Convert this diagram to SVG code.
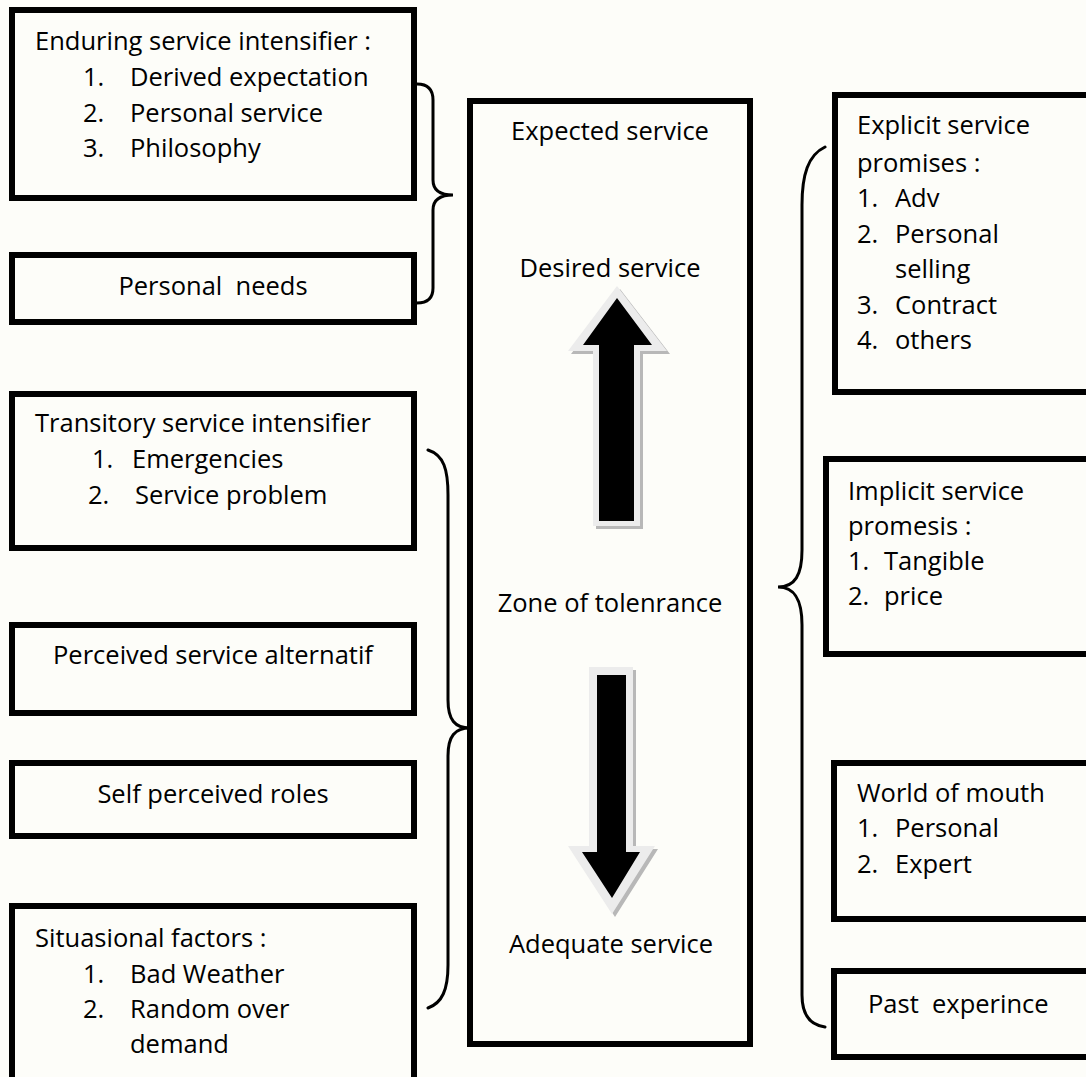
<svg xmlns="http://www.w3.org/2000/svg" width="1086" height="1077" viewBox="0 0 1086 1077">
  <style>
    .box { fill: none; stroke: #000; stroke-width: 6; }
    .brace { fill: none; stroke: #000; stroke-width: 3; stroke-linecap: round; }
    text { font-family: "Open Sans", "Liberation Sans", sans-serif; font-size: 25.5px; fill: #000; white-space: pre; }
    .mid { text-anchor: middle; }
    .glow { fill: #ececec; }
    .shade { fill: #b8b8b8; }
    .core { fill: #000; }
  </style>
  <rect x="0" y="0" width="1086" height="1077" fill="#fdfdf9"/>

  <!-- left column -->
  <g id="enduring-intensifier">
    <rect class="box" x="12" y="10" width="402" height="188"/>
    <text x="35" y="50">Enduring service intensifier :</text>
    <text x="83" y="86">1.</text><text x="130" y="86">Derived expectation</text>
    <text x="83" y="122">2.</text><text x="130" y="122">Personal service</text>
    <text x="83" y="157">3.</text><text x="130" y="157">Philosophy</text>
  </g>
  <g id="personal-needs">
    <rect class="box" x="12" y="255" width="402" height="67"/>
    <text class="mid" x="213" y="295">Personal  needs</text>
  </g>
  <g id="transitory-intensifier">
    <rect class="box" x="12" y="394" width="402" height="154"/>
    <text x="35" y="432">Transitory service intensifier</text>
    <text x="92" y="468">1.</text><text x="132" y="468">Emergencies</text>
    <text x="88" y="504">2.</text><text x="135" y="504">Service problem</text>
  </g>
  <g id="perceived-alternatives">
    <rect class="box" x="12" y="625" width="402" height="88"/>
    <text class="mid" x="213" y="664">Perceived service alternatif</text>
  </g>
  <g id="self-perceived-roles">
    <rect class="box" x="12" y="763" width="402" height="73"/>
    <text class="mid" x="213" y="803">Self perceived roles</text>
  </g>
  <g id="situational-factors">
    <rect class="box" x="12" y="906" width="402" height="200"/>
    <text x="35" y="947">Situasional factors :</text>
    <text x="83" y="983">1.</text><text x="130" y="983">Bad Weather</text>
    <text x="83" y="1018">2.</text><text x="130" y="1018">Random over</text>
    <text x="130" y="1053">demand</text>
  </g>

  <!-- centre column: expected service and zone of tolerance -->
  <g id="expected-service">
    <rect class="box" x="470" y="101" width="280" height="943"/>
    <text class="mid" x="610" y="140">Expected service</text>
    <text class="mid" x="610" y="277">Desired service</text>
    <text class="mid" x="610" y="612">Zone of tolenrance</text>
    <text class="mid" x="611" y="953">Adequate service</text>
    <g id="arrow-up">
      <polygon class="shade" transform="translate(3,3)" points="617,286 667,351 640,351 640,526 593,526 593,351 568,351"/>
      <polygon class="glow" points="617,286 667,351 640,351 640,526 593,526 593,351 568,351"/>
      <polygon class="core" points="617,298 652,345 634,345 634,521 599,521 599,345 583,345"/>
    </g>
    <g id="arrow-down">
      <polygon class="shade" transform="translate(3,3)" points="589,667 633,667 633,846 655,846 612,914 568,846 589,846"/>
      <polygon class="glow" points="589,667 633,667 633,846 655,846 612,914 568,846 589,846"/>
      <polygon class="core" points="597,675 626,675 626,852 640,852 612,898 582,852 597,852"/>
    </g>
  </g>

  <!-- right column -->
  <g id="explicit-promises">
    <rect class="box" x="835" y="95" width="260" height="297"/>
    <text x="857" y="134">Explicit service</text>
    <text x="857" y="172">promises :</text>
    <text x="857" y="207">1.</text><text x="895" y="207">Adv</text>
    <text x="857" y="243">2.</text><text x="895" y="243">Personal</text>
    <text x="895" y="278">selling</text>
    <text x="857" y="314">3.</text><text x="895" y="314">Contract</text>
    <text x="857" y="349">4.</text><text x="895" y="349">others</text>
  </g>
  <g id="implicit-promises">
    <rect class="box" x="826" y="459" width="270" height="195"/>
    <text x="848" y="500">Implicit service</text>
    <text x="848" y="535">promesis :</text>
    <text x="848" y="570">1.</text><text x="884" y="570">Tangible</text>
    <text x="848" y="605">2.</text><text x="884" y="605">price</text>
  </g>
  <g id="word-of-mouth">
    <rect class="box" x="834" y="763" width="260" height="156"/>
    <text x="857" y="802">World of mouth</text>
    <text x="857" y="837">1.</text><text x="895" y="837">Personal</text>
    <text x="857" y="873">2.</text><text x="895" y="873">Expert</text>
  </g>
  <g id="past-experience">
    <rect class="box" x="834" y="971" width="260" height="86"/>
    <text x="868" y="1013">Past  experince</text>
  </g>

  <!-- braces grouping the factors -->
  <g id="connectors">
    <path class="brace" d="M417,84 Q433,84 433,100 L433,180 Q433,195 453,195 Q433,195 433,210 L433,288 Q433,303 417,303"/>
    <path class="brace" d="M428,450 C444,455 448,470 448,495 L448,700 C448,720 455,728 470,728 C455,728 448,736 448,756 L448,965 C448,990 442,1003 428,1008"/>
    <path class="brace" d="M825,147 C808,155 802,175 802,205 L802,550 C802,575 795,587 778,587 C795,587 802,600 802,625 L802,995 C802,1015 810,1025 825,1027"/>
  </g>
</svg>
